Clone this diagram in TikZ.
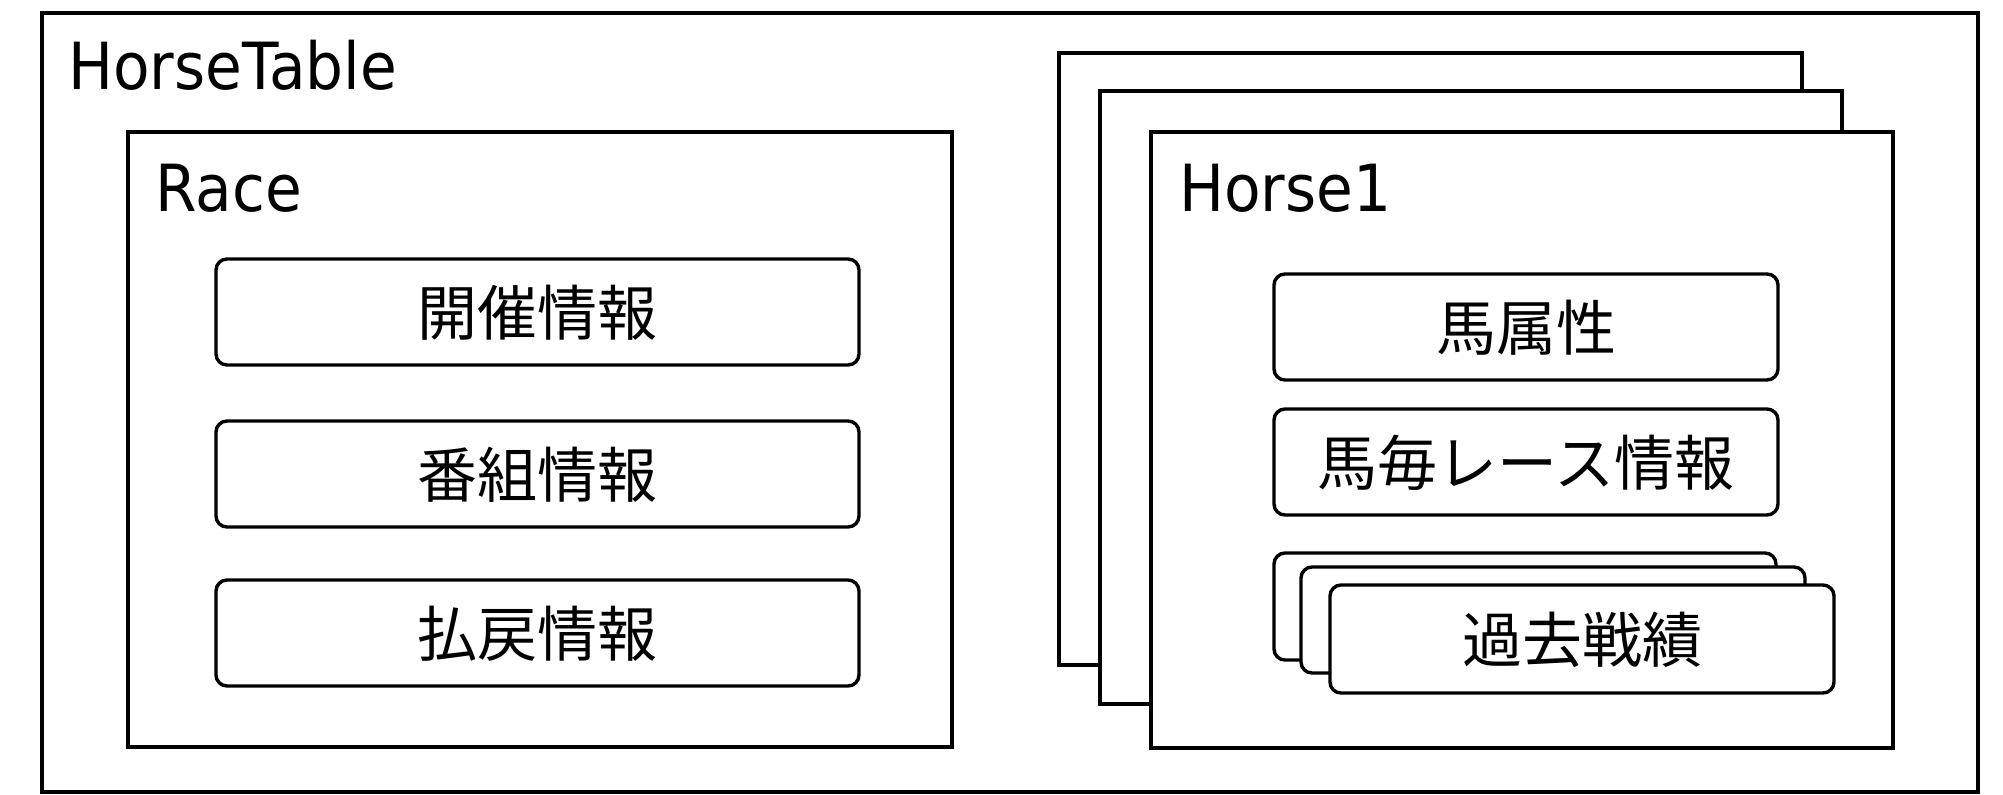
\documentclass[tikz,border=0pt]{standalone}
\usepackage{fontspec}
\setmainfont{DejaVu Sans}[FakeStretch=0.92]
\newfontfamily\jp{Noto Sans CJK JP}
\usetikzlibrary{fit}
\tikzset{
  frame/.style={draw=black, fill=white, line width=1.7pt, inner sep=0pt, rectangle},
  item/.style={frame, rounded corners=5.5pt},
  title/.style={anchor=base west, inner sep=0pt, font=\fontsize{32.5}{36}\selectfont},
  jtext/.style={anchor=base, inner sep=0pt, font=\jp\fontsize{30}{34}\selectfont},
}
\begin{document}
\begin{tikzpicture}[x=0.5pt, y=-0.5pt]
\useasboundingbox (0,0) rectangle (2003,794);
% outer
\node[frame, fit={(42,13) (1978,792)}] (outer) {};
\node[title] (ttable) at (68,89) {HorseTable};
% race
\node[frame, fit={(128,132) (952,747)}] (race) {};
\node[title] (trace) at (155,211) {Race};
\node[item, fit={(216,259) (859,365)}] (kaisai) {};
\node[jtext] (tkaisai) at (537.5,335) {開催情報};
\node[item, fit={(216,421) (859,527)}] (bangumi) {};
\node[jtext] (tbangumi) at (537.5,497) {番組情報};
\node[item, fit={(216,580) (859,686)}] (harai) {};
\node[jtext] (tharai) at (537.5,656) {払戻情報};
% horse stack
\node[frame, fit={(1059,53) (1802,665)}] (horse3) {};
\node[frame, fit={(1100,91) (1842,704)}] (horse2) {};
\node[frame, fit={(1151,132) (1893,748)}] (horse1) {};
\node[title] (thorse) at (1179,211) {Horse1};
\node[item, fit={(1274,274) (1778,380)}] (zokusei) {};
\node[jtext] (tzokusei) at (1526,350) {馬属性};
\node[item, fit={(1274,409) (1778,515)}] (maigoto) {};
\node[jtext] (tmaigoto) at (1526,485) {馬毎レース情報};
\node[item, fit={(1274,553) (1776,660)}] (kako3) {};
\node[item, fit={(1301,567) (1805,673)}] (kako2) {};
\node[item, fit={(1330,585) (1834,693)}] (kako1) {};
\node[jtext] (tkako) at (1582,662) {過去戦績};
\end{tikzpicture}
\end{document}
